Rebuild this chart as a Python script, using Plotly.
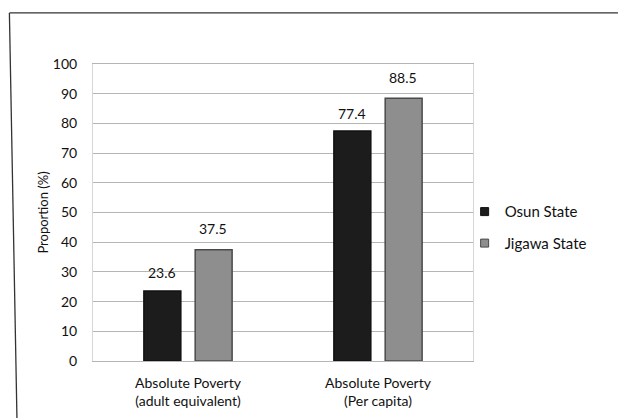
import plotly.graph_objects as go

# Datos
categorias = ["Absolute Poverty<br>(adult equivalent)", "Absolute Poverty<br>(Per capita)"]
series = ["Osun State", "Jigawa State"]
osun = [23.6, 77.4]
jigawa = [37.5, 88.5]
ticks_y = [0, 10, 20, 30, 40, 50, 60, 70, 80, 90, 100]

colores = ["#1c1c1c", "#8e8e8e"]
bordes = ["#111111", "#4a4a4a"]

fig = go.Figure()
for nombre, vals, col, borde in zip(series, [osun, jigawa], colores, bordes):
    fig.add_trace(go.Bar(name=nombre, x=categorias, y=vals, showlegend=False,
                         marker=dict(color=col, line=dict(color=borde, width=1.5))))
    # Marcador pequeño para la leyenda
    fig.add_trace(go.Scatter(name=nombre, x=[None], y=[None], mode="markers",
                             legendgroup=nombre,
                             marker=dict(symbol="square", size=8, color=col,
                                         line=dict(color=borde, width=1))))

# Etiquetas de valor encima de las barras
for i, c in enumerate(categorias):
    fig.add_annotation(x=c, y=osun[i], text=f"{osun[i]}", showarrow=False,
                       xshift=-26, yshift=18, font=dict(size=14, color="#111"))
    fig.add_annotation(x=c, y=jigawa[i], text=f"{jigawa[i]}", showarrow=False,
                       xshift=25, yshift=21, font=dict(size=14, color="#111"))

# Marco del escaneo
marco = dict(type="line", xref="paper", yref="paper", line=dict(color="#333", width=1.3))
fig.add_shape(x0=-0.22, y0=1.172, x1=1.392, y1=1.172, **marco)
fig.add_shape(x0=-0.22, y0=1.172, x1=-0.2, y1=-0.2, **marco)
fig.add_shape(x0=1.392, y0=1.19, x1=1.392, y1=0.104, **marco)

# La página tiene 8px de margen, así que la figura es un poco más pequeña
fig.update_layout(
    width=618, height=410,
    margin=dict(l=85, r=153, t=56, b=57, autoexpand=False),
    paper_bgcolor="white", plot_bgcolor="white",
    font=dict(family="Lato", size=13, color="#111"),
    barmode="group", bargap=0.46, bargroupgap=0.28,
    showlegend=True,
    legend=dict(x=0.978, y=0.45, xanchor="left", yanchor="middle",
                bgcolor="rgba(0,0,0,0)",
                font=dict(size=15), itemwidth=30, tracegroupgap=9),
)
fig.update_yaxes(range=[0, 100], tickvals=ticks_y, showgrid=True,
                 gridcolor="#b5b5b5", gridwidth=1, automargin=False,
                 showline=True, linecolor="#d6d6d6", mirror=True,
                 ticks="outside", ticklen=12, tickcolor="rgba(0,0,0,0)",
                 tickfont=dict(size=14),
                 title=dict(text="Proportion (%)", font=dict(size=13), standoff=1))
fig.update_xaxes(showline=True, linecolor="#b5b5b5", mirror=True, automargin=False,
                 ticks="outside", ticklen=9, tickcolor="rgba(0,0,0,0)",
                 tickfont=dict(size=14))

fig.write_html("out.html")
